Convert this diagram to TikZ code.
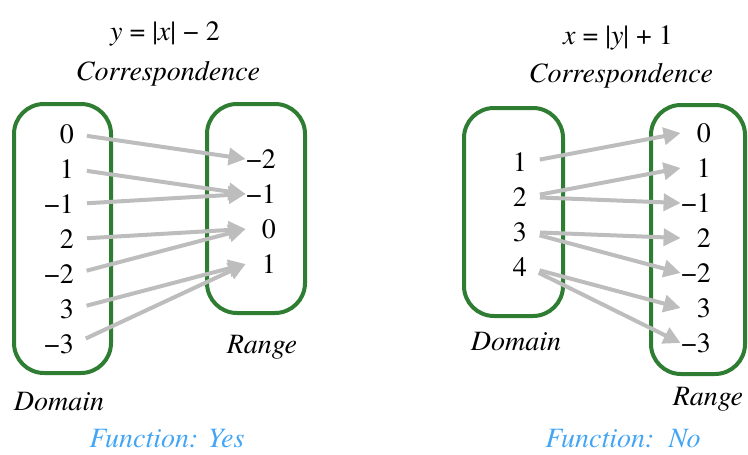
\documentclass[tikz,border=0pt]{standalone}
\usepackage{fontspec}
\setmainfont{texgyretermes}[
	Extension      = .otf,
	UprightFont    = *-regular,
	ItalicFont     = *-italic,
	BoldFont       = *-bold,
	BoldItalicFont = *-bolditalic]
\usetikzlibrary{arrows.meta,positioning}

\definecolor{setgreen}{RGB}{46,125,50}
\definecolor{mapgray}{RGB}{189,189,189}
\definecolor{answerblue}{RGB}{66,165,245}

\begin{document}
\begin{tikzpicture}[x=1pt,y=-1pt,
	font=\rmfamily\fontsize{28}{32}\selectfont,
	set/.style   = {draw=setgreen, line width=4pt, rounded corners=30pt},
	num/.style   = {inner sep=0pt, text width=30pt, align=right, anchor=east},
	maps/.style  = {draw=mapgray, line width=4pt, shorten <=13pt, -{Triangle[length=17pt,width=17pt]}},
	label/.style = {anchor=base, font=\rmfamily\fontsize{28}{32}\selectfont\itshape},
	verdict/.style = {label, text=answerblue}]

	\useasboundingbox (0,0) rectangle (748,455);

	% Left: y = |x| - 2
	\node[anchor=base] (leq) at (165,40) {\textit{y} = |\textit{x}| − 2};
	\node[label] (lcorr) at (168,80) {Correspondence};

	\draw[set] (14,104) rectangle (111,373);
	\draw[set] (207,104) rectangle (305,313);

	\foreach \v [count=\i] in {0,1,−1,2,−2,3,−3}
		\node[num] (ld\i) at (74,{99+35*\i}) {\v};
	\foreach \v [count=\i] in {−2,−1,0,1}
		\node[num] (lr\i) at (276,{124+35*\i}) {\v};

	% every x goes to exactly one y
	\foreach \a/\b in {1/1,2/2,3/2,4/3,5/3,6/4,7/4}
		\draw[maps] (ld\a.east) -- (lr\b.west);

	\node[label] (lran) at (262,353) {Range};
	\node[label] (ldom) at (59,410) {Domain};
	\node[verdict] (lfun) at (167,447) {Function: Yes};

	% Right: x = |y| + 1
	\node[anchor=base] (req) at (618,45) {\textit{x} = |\textit{y}| + 1};
	\node[label] (rcorr) at (621,82) {Correspondence};

	\draw[set] (464,108) rectangle (563,316);
	\draw[set] (651,105) rectangle (745,374);

	\foreach \v [count=\i] in {1,2,3,4}
		\node[num] (rd\i) at (527,{127+35*\i}) {\v};
	\foreach \v [count=\i] in {0,1,−1,2,−2,3,−3}
		\node[num] (rr\i) at (711,{98+35*\i}) {\v};

	% one x goes to two values of y
	\foreach \a/\b in {1/1,2/2,2/3,3/4,3/5,4/6,4/7}
		\draw[maps] (rd\a.east) -- (rr\b.west);

	\node[label] (rdom) at (516,350) {Domain};
	\node[label] (rran) at (708,405) {Range};
	\node[verdict] (rfun) at (623,447) {Function:\enspace No};

\end{tikzpicture}
\end{document}
